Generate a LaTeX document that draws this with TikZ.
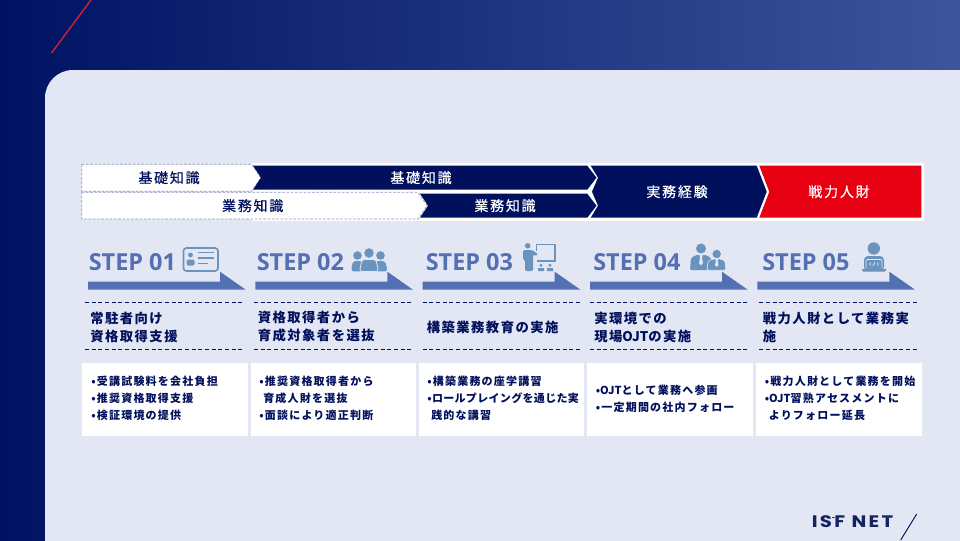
\documentclass[tikz,border=0pt]{standalone}
\usepackage{fontspec}
\newfontfamily\jprib{Noto Sans CJK JP}[LetterSpace=12.5,FakeBold=0.4]
\newfontfamily\jphead{Noto Sans CJK JP}[LetterSpace=11]
\newfontfamily\jplist{Noto Sans CJK JP}[LetterSpace=11]
\newfontfamily\jplisttight{Noto Sans CJK JP}[LetterSpace=3]
\newfontfamily\jpnospace{Noto Sans CJK JP}
\newfontfamily\stepfont{Open Sans}
\newfontfamily\logofont{Poppins}[LetterSpace=14,FakeStretch=1.18]
\newcommand{\ojt}{{\jpnospace\bfseries OJT}}
\definecolor{navy}{HTML}{00105C}
\definecolor{bgstart}{HTML}{001263}
\definecolor{bgend}{HTML}{3C559B}
\definecolor{panel}{HTML}{E3E7F4}
\definecolor{redc}{HTML}{E60012}
\definecolor{slashred}{HTML}{C8203C}
\definecolor{stepc}{HTML}{5470B4}
\definecolor{iconc}{HTML}{6A93BD}
\definecolor{dashc}{HTML}{8A9BBB}
\definecolor{logoc}{HTML}{14245F}
\tikzset{
  x=0.75pt,y=-0.75pt,
  ribbonlabel/.style={font=\jprib\fontsize{10.5pt}{12pt}\selectfont,inner sep=0pt},
  headlabel/.style={font=\jphead\bfseries\fontsize{10pt}{13.5pt}\selectfont,text=navy,anchor=west,align=left,inner sep=0pt},
  listlabel/.style={font=\jplist\bfseries\fontsize{8.25pt}{12.75pt}\selectfont,text=navy,anchor=west,align=left,inner sep=0pt},
  steplabel/.style={font=\stepfont\bfseries\fontsize{17.6pt}{20pt}\selectfont,text=stepc,anchor=base west,inner sep=0pt},
  sepline/.style={draw=navy,line width=0.6pt,dash pattern=on 3pt off 2pt},
  listbox/.style={fill=white,draw=none},
  stepbar/.style={fill=stepc,draw=none},
  icon/.style={fill=iconc,draw=none},
  iconline/.style={draw=iconc,line width=1pt},
}
\newcommand{\steparrow}[1]{\fill[stepbar] (#1,281.7) -- (#1+132,281.7) -- (#1+132,271.7) -- (#1+157.7,289.7) -- (#1,289.7) -- cycle;}
\begin{document}
\begin{tikzpicture}
\useasboundingbox (0,0) rectangle (960,540);
% background
\shade[left color=bgstart,right color=bgend] (0,-5) rectangle (965,545);
\draw[color=slashred,line width=1.1pt,line cap=round] (51.7,52.7) -- (91,0);
\fill[panel] (965,70) -- (73,70) .. controls (57.5,70) and (45,82.5) .. (45,98) -- (45,545) -- (965,545) -- cycle;
% ribbons
\fill[white] (252,163) rectangle (924,220.5);
\draw[fill=white,draw=dashc,line width=0.5pt,dash pattern=on 2pt off 1.2pt] (81.7,164.3) -- (251.7,164.3) -- (260.7,177.7) -- (251.7,191.3) -- (81.7,191.3) -- cycle;
\draw[fill=white,draw=dashc,line width=0.5pt,dash pattern=on 2pt off 1.2pt] (81.7,192.3) -- (418,192.3) -- (427,205.7) -- (418,219) -- (81.7,219) -- cycle;
\fill[navy] (253,165.7) -- (587.3,165.7) -- (596.5,177.7) -- (587.3,189.7) -- (253,189.7) -- (261,177.7) -- cycle;
\fill[navy] (420,193.7) -- (587.3,193.7) -- (596.5,205.7) -- (587.3,217.7) -- (420,217.7) -- (428,205.7) -- cycle;
\fill[navy] (590.7,165.7) -- (756.7,165.7) -- (766.7,191.7) -- (756.7,217.7) -- (590.7,217.7) -- (598,205.7) -- (592,191.7) -- (598,177.7) -- cycle;
\fill[redc] (759.3,165.7) -- (921.3,165.7) -- (921.3,217.7) -- (759.3,217.7) -- (769.3,191.7) -- cycle;
\node[ribbonlabel,text=navy] (r1) at (169,177.7) {基礎知識};
\node[ribbonlabel,text=navy] (r2) at (252.7,205.7) {業務知識};
\node[ribbonlabel,text=white] (r3) at (421,177.7) {基礎知識};
\node[ribbonlabel,text=white] (r4) at (505,205.7) {業務知識};
\node[ribbonlabel,text=white] (r5) at (677,191.7) {実務経験};
\node[ribbonlabel,text=white] (r6) at (839,191.7) {戦力人財};
% step arrows and labels
\steparrow{88}\steparrow{255.3}\steparrow{422.7}\steparrow{590}\steparrow{757.3}
\node[steplabel] (s1) at (88.5,270) {STEP 01};
\node[steplabel] (s2) at (256.5,270) {STEP 02};
\node[steplabel] (s3) at (425.5,270) {STEP 03};
\node[steplabel] (s4) at (593,270) {STEP 04};
\node[steplabel] (s5) at (762,270) {STEP 05};
% icon 1: card
\draw[iconline,line width=1.2pt,rounded corners=2.2pt] (183.5,248) rectangle (218,271);
\fill[icon] (190.5,255) circle[radius=2.4];
\fill[icon,rounded corners=1.5pt] (186.5,259.5) rectangle (194.5,265.5);
\draw[iconline] (198,252.5) -- (214,252.5) (198,258) -- (214,258) (198,263.5) -- (208,263.5);
% icon 2: people
\fill[icon] (357.5,255.5) circle[radius=4.3];
\fill[icon] (380.5,255.5) circle[radius=4.3];
\fill[icon,rounded corners=2pt] (351,271.3) -- (353,261) -- (362,261) -- (366,271.3) -- cycle;
\fill[icon,rounded corners=2pt] (372,271.3) -- (376,261) -- (385,261) -- (387.7,271.3) -- cycle;
\fill[icon,draw=panel,line width=0.6pt] (369,253) circle[radius=5.3];
\fill[icon,draw=panel,line width=0.6pt,rounded corners=2pt] (359.5,271.5) -- (362,259.5) -- (376,259.5) -- (378.5,271.5) -- cycle;
% icon 3: presenter
\fill[icon] (527.7,245.8) circle[radius=2.8];
\fill[icon,rounded corners=1pt] (523,250) -- (532,250) -- (538,254) -- (537,256) -- (533,254.5) -- (533,271) -- (525,271) -- (525,260) -- (523,260) -- cycle;
\draw[iconline,line width=0.8pt] (536.7,244.3) -- (555,244.3) -- (555,261) -- (537,261);
\draw[iconline,line width=0.8pt] (536.7,244.3) -- (536.7,251);
\fill[icon] (541,265.3) circle[radius=1.6] (550,265.3) circle[radius=1.6];
\fill[icon] (538,268) rectangle (544,271) (547,268) rectangle (553,271);
% icon 4: business people
\fill[icon] (701,248.5) circle[radius=5];
\fill[icon] (716.7,254) circle[radius=4.2];
\fill[icon,rounded corners=1pt] (690,270) -- (691,258) -- (696,255) -- (706,255) -- (711,258) -- (712,270) -- cycle;
\fill[icon,draw=panel,line width=0.5pt,rounded corners=1pt] (707,270.3) -- (708,261) -- (713,259) -- (721,259) -- (725,261) -- (726,270.3) -- cycle;
\fill[panel] (699.5,255) -- (702.5,255) -- (702,258) -- (703,263) -- (701,265.5) -- (699,263) -- (700,258) -- cycle;
\fill[panel] (715.5,259) -- (718,259) -- (717.7,261) -- (718.5,265) -- (716.7,267) -- (715,265) -- (715.8,261) -- cycle;
% icon 5: engineer
\fill[icon] (873.8,248.5) circle[radius=6.2];
\fill[icon,rounded corners=3pt] (864,271) -- (864,256) -- (884,256) -- (884,271) -- cycle;
\fill[icon] (861.7,269) -- (886.7,269) -- (885,271.5) -- (863,271.5) -- cycle;
\draw[panel,line width=0.6pt,rounded corners=1pt] (866,268) -- (866,259.5) -- (882,259.5) -- (882,268);
\draw[panel,line width=0.5pt] (871,262.5) -- (869.5,264) -- (871,265.5) (873,265.8) -- (875,262.2) (877,262.5) -- (878.5,264) -- (877,265.5);
% separators
\foreach \a/\b/\n in {85/244/1,254/413/2,422.7/582/3,590/749/4,759.3/918/5}{
  \draw[sepline] (\a,302.3) -- (\b,302.3);
  \draw[sepline] (\a,349) -- (\b,349);
}
% headings
\node[headlabel] (h1) at (90,327) {常駐者向け\\資格取得支援};
\node[headlabel] (h2) at (257.5,327) {資格取得者から\\育成対象者を選抜};
\node[headlabel] (h3) at (426.5,327) {構築業務教育の実施};
\node[headlabel] (h4) at (594,327) {実環境での\\現場\ojt の実施};
\node[headlabel] (h5) at (762.5,327) {戦力人財として業務実\\施};
% list boxes
\fill[listbox] (82,363.3) rectangle (247.7,436);
\fill[listbox] (250.7,363.3) rectangle (416.3,436);
\fill[listbox] (418.7,363.3) rectangle (584,436);
\fill[listbox] (587.3,363.3) rectangle (753,436);
\fill[listbox] (756,363.3) rectangle (921.7,436);
\node[listlabel] (l1) at (91,398.5) {•受講試験料を会社負担\\•推奨資格取得支援\\•検証環境の提供};
\node[listlabel] (l2) at (259,398.5) {•推奨資格取得者から\\\hspace*{3pt}育成人財を選抜\\•面談により適正判断};
\node[listlabel] (l3) at (427,398.5) {•構築業務の座学講習\\{\jplisttight\bfseries\fontsize{8.25pt}{12.75pt}\selectfont •ロールプレイングを通じた実}\\\hspace*{3pt}践的な講習};
\node[listlabel] (l4) at (595.5,398.5) {•\ojt として業務へ参画\\•一定期間の社内フォロー};
\node[listlabel] (l5) at (764.5,398.5) {•戦力人財として業務を開始\\•\ojt 習熟アセスメントに\\\hspace*{3pt}よりフォロー延長};
% logo
\node[font=\logofont\bfseries\fontsize{12.5pt}{14pt}\selectfont,text=logoc,anchor=west,inner sep=0pt] (logo) at (811.5,522) {ISF NET};
\fill[redc] (832,517) rectangle (835,518.3);
\fill[redc] (887,517) rectangle (891,518.3);
\coordinate (slashtop) at (916.7,514);
\coordinate (slashend) at (900.7,540);
\draw[navy,line width=0.7pt] (slashtop) -- (slashend);
\end{tikzpicture}
\end{document}
